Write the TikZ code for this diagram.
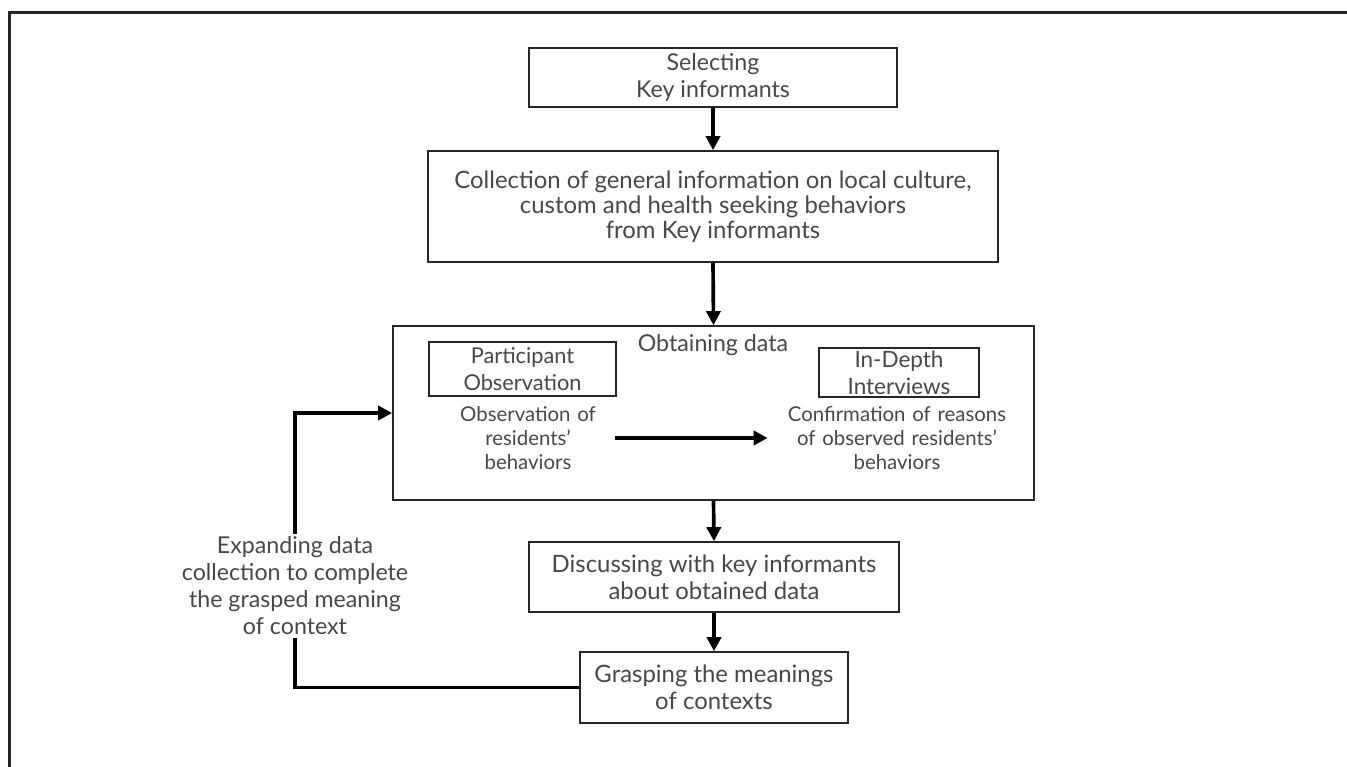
\documentclass[tikz,border=0pt]{standalone}
\usepackage{fontspec}
\setmainfont{Lato}
\usepackage{tikz}
\usetikzlibrary{positioning, arrows.meta, calc}

\begin{document}
\begin{tikzpicture}[
  x=0.025cm, y=-0.025cm,
  font=\fontsize{16.5}{19.2}\selectfont,
  arrow/.style={-{Triangle[length=10pt, width=10pt]}, line width=2.6pt, draw=black},
  loopline/.style={line width=2.6pt, draw=black},
  block/.style={draw=black!85, line width=1.1pt, rectangle, align=center,
                text=black!72, inner sep=2pt},
  note/.style={align=center, text=black!72, inner sep=0pt,
               font=\fontsize{14.5}{17}\selectfont},
  side/.style={align=center, text=black!72, inner sep=2pt}
]
\useasboundingbox (0,0) rectangle (1347,767);

% Outer frame (cut at right and bottom)
\draw[line width=1.5pt, black!85] (9.5,767) -- (9.5,12.5) -- (1347,12.5);

% Main column
\node[block, minimum width=9.2cm, minimum height=1.475cm] (select) at (713,77.5)
  {Selecting\\Key informants};
\node[block, minimum width=14.25cm, minimum height=2.775cm,
      font=\fontsize{17}{17.8}\selectfont] (collect) at (713,206.5)
  {Collection of general information on local culture,\\custom and health seeking behaviors\\from Key informants};
\node[block, minimum width=16.025cm, minimum height=4.35cm] (obtain) at (713.5,413) {};
\node[side, font=\fontsize{16.5}{19.2}\selectfont] (obtainlab) at (713,345) {Obtaining data};
\node[block, minimum width=9.25cm, minimum height=1.75cm,
      font=\fontsize{17}{19.2}\selectfont] (discuss) at (714,577)
  {Discussing with key informants\\about obtained data};
\node[block, minimum width=6.7cm, minimum height=1.775cm,
      font=\fontsize{17}{19.2}\selectfont] (grasp) at (714,687.5)
  {Grasping the meanings\\of contexts};

% Inside the data box
\node[block, minimum width=4.675cm, minimum height=1.35cm,
      font=\fontsize{15.5}{19.2}\selectfont] (partobs) at (522.5,369)
  {Participant\\Observation};
\node[block, minimum width=4.0cm, minimum height=1.225cm,
      font=\fontsize{16}{19.2}\selectfont] (indepth) at (899,372.5)
  {In-Depth\\Interviews};
\node[note, text width=4.35cm] (obsnote) at (528,438)
  {Observation of\\residents'\\behaviors};
\node[note, text width=6.45cm] (confnote) at (897,438)
  {Confirmation of reasons\\of observed residents'\\behaviors};

% Feedback label
\node[side, font=\fontsize{16.5}{19.2}\selectfont] (expand) at (295,586)
  {Expanding data\\collection to complete\\the grasped meaning\\of context};

% Connectors
\draw[arrow] (select.south) -- (collect.north);
\draw[arrow] (collect.south) -- (obtain.north);
\draw[arrow] (obtain.south) -- (discuss.north);
\draw[arrow] (discuss.south) -- (grasp.north);
\draw[arrow] (obsnote.east) -- (confnote.west);

% Feedback loop
\draw[loopline] (grasp.west) -| (expand.south);
\draw[arrow] (expand.north) |- (obtain.west);

\end{tikzpicture}
\end{document}
